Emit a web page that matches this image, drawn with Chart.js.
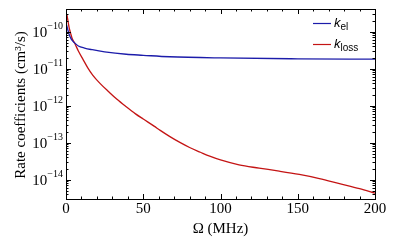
<!DOCTYPE html>
<html>
<head>
<meta charset="utf-8">
<script src="https://cdn.jsdelivr.net/npm/chart.js@4.4.1/dist/chart.umd.min.js"></script>
<style>
  html, body { margin: 0; padding: 0; background: #fff; }
  canvas { display: block; }
</style>
</head>
<body>
<canvas id="rateChart" width="397" height="242"></canvas>
<script>
// Omega in MHz, rate coefficients in cm^3/s
const omegaEl = [0.3, 1, 2, 3, 4, 5.5, 8, 12, 17, 25, 39, 50, 67, 100, 150, 200]
const kEl = [1.55e-10, 1.2e-10, 8.5e-11, 6.8e-11, 5.8e-11, 5.0e-11, 4.1e-11, 3.6e-11, 3.25e-11, 2.85e-11, 2.45e-11, 2.3e-11, 2.1e-11, 1.95e-11, 1.85e-11, 1.8e-11]

const omegaLoss = [0.5, 1, 2, 3, 4, 5.5, 8, 11, 14, 17.4, 22, 28, 33, 39, 45, 50, 57, 61, 67, 74, 80, 87, 93, 100, 112, 125, 138, 151, 164, 177, 190, 200]
const kLoss = [3.0e-10, 2.3e-10, 1.3e-10, 9e-11, 6.5e-11, 5e-11, 3.0e-11, 1.78e-11, 1.07e-11, 6.6e-12, 4.0e-12, 2.3e-12, 1.48e-12, 9.3e-13, 6.0e-13, 4.35e-13, 2.8e-13, 2.15e-13, 1.48e-13, 1.0e-13, 7.4e-14, 5.5e-14, 4.3e-14, 3.4e-14, 2.5e-14, 2.05e-14, 1.7e-14, 1.38e-14, 1.07e-14, 7.8e-15, 5.7e-15, 4.3e-15]

const xTicks = [0, 50, 100, 150, 200]
const yExponents = [-10, -11, -12, -13, -14]

const xTitle = 'Ω (MHz)'
const yTitle = 'Rate coefficients (cm³/s)'
const legendItems = [
  { sub: 'el', color: '#1c1caa' },
  { sub: 'loss', color: '#c41414' }
]

const SERIF = '"Liberation Serif", "DejaVu Serif", serif'
const SANS = '"Liberation Sans", Arial, sans-serif'

const toPoints = (xs, ys) => xs.map((x, i) => ({ x, y: ys[i] }))

const axesPlugin = {
  id: 'mathAxes',
  afterDraw (chart) {
    const { ctx, chartArea: a, scales } = chart
    const xs = scales.x
    const ys = scales.y
    ctx.save()
    ctx.strokeStyle = '#000'
    ctx.fillStyle = '#000'
    ctx.lineWidth = 1
    // frame
    ctx.strokeRect(Math.round(a.left) + 0.5, Math.round(a.top) + 0.5, Math.round(a.right - a.left), Math.round(a.bottom - a.top))

    ctx.beginPath()
    // x ticks, inward, top and bottom
    for (let v = 0; v <= 200; v += 10) {
      const px = Math.round(xs.getPixelForValue(v)) + 0.5
      const len = v % 50 === 0 ? 5 : 2.5
      ctx.moveTo(px, a.bottom); ctx.lineTo(px, a.bottom - len)
      ctx.moveTo(px, a.top); ctx.lineTo(px, a.top + len)
    }
    // y ticks, inward, left and right
    for (let e = -15; e <= -10; e++) {
      for (let m = 1; m <= 9; m++) {
        const v = m * Math.pow(10, e)
        if (v < ys.min || v > ys.max) continue
        const py = Math.round(ys.getPixelForValue(v)) + 0.5
        const len = m === 1 ? 5 : 2.5
        ctx.moveTo(a.left, py); ctx.lineTo(a.left + len, py)
        ctx.moveTo(a.right, py); ctx.lineTo(a.right - len, py)
      }
    }
    ctx.stroke()

    // x tick labels
    ctx.font = '15px ' + SERIF
    ctx.textAlign = 'center'
    ctx.textBaseline = 'middle'
    xTicks.forEach(v => {
      ctx.fillText(String(v), xs.getPixelForValue(v), a.bottom + 10)
    })
    // x title
    ctx.fillText(xTitle, (a.left + a.right) / 2, a.bottom + 30)

    // y tick labels 10^e
    yExponents.forEach(e => {
      const py = ys.getPixelForValue(Math.pow(10, e))
      const exp = '−' + String(-e)
      ctx.font = '10px ' + SERIF
      const ew = ctx.measureText(exp).width
      ctx.textAlign = 'left'
      ctx.textBaseline = 'middle'
      const right = a.left - 3
      ctx.fillText(exp, right - ew, py - 5)
      ctx.font = '15px ' + SERIF
      ctx.textAlign = 'right'
      ctx.fillText('10', right - ew, py + 1)
    })

    // y title
    ctx.save()
    ctx.translate(21, (a.top + a.bottom) / 2 + 1)
    ctx.rotate(-Math.PI / 2)
    ctx.font = '15px ' + SERIF
    ctx.textAlign = 'center'
    ctx.textBaseline = 'middle'
    ctx.fillText(yTitle, 0, 0)
    ctx.restore()

    // legend
    legendItems.forEach((item, i) => {
      const ly = 23 + i * 21
      ctx.strokeStyle = item.color
      ctx.lineWidth = 1.2
      ctx.beginPath()
      ctx.moveTo(313, ly + 0.5)
      ctx.lineTo(331, ly + 0.5)
      ctx.stroke()
      ctx.fillStyle = '#000'
      ctx.textAlign = 'left'
      ctx.textBaseline = 'alphabetic'
      ctx.font = 'italic 13px ' + SANS
      ctx.fillText('k', 334, ly + 4)
      const kw = ctx.measureText('k').width
      ctx.font = '10px ' + SANS
      ctx.fillText(item.sub, 334 + kw, ly + 7)
    })
    ctx.restore()
  }
}

new Chart(document.getElementById('rateChart'), {
  type: 'line',
  data: {
    datasets: [
      {
        label: 'k_el',
        data: toPoints(omegaEl, kEl),
        borderColor: legendItems[0].color,
        borderWidth: 1.3,
        pointRadius: 0,
        cubicInterpolationMode: 'monotone'
      },
      {
        label: 'k_loss',
        data: toPoints(omegaLoss, kLoss),
        borderColor: legendItems[1].color,
        borderWidth: 1.3,
        pointRadius: 0,
        cubicInterpolationMode: 'monotone'
      }
    ]
  },
  options: {
    responsive: false,
    animation: false,
    devicePixelRatio: 1,
    layout: { padding: { left: 66, right: 22, top: 9, bottom: 43 } },
    scales: {
      x: { type: 'linear', min: 0, max: 200, display: false },
      y: { type: 'logarithmic', min: 3.3e-15, max: 4.1e-10, display: false }
    },
    plugins: {
      legend: { display: false },
      tooltip: { enabled: false }
    }
  },
  plugins: [axesPlugin]
})
</script>
</body>
</html>
